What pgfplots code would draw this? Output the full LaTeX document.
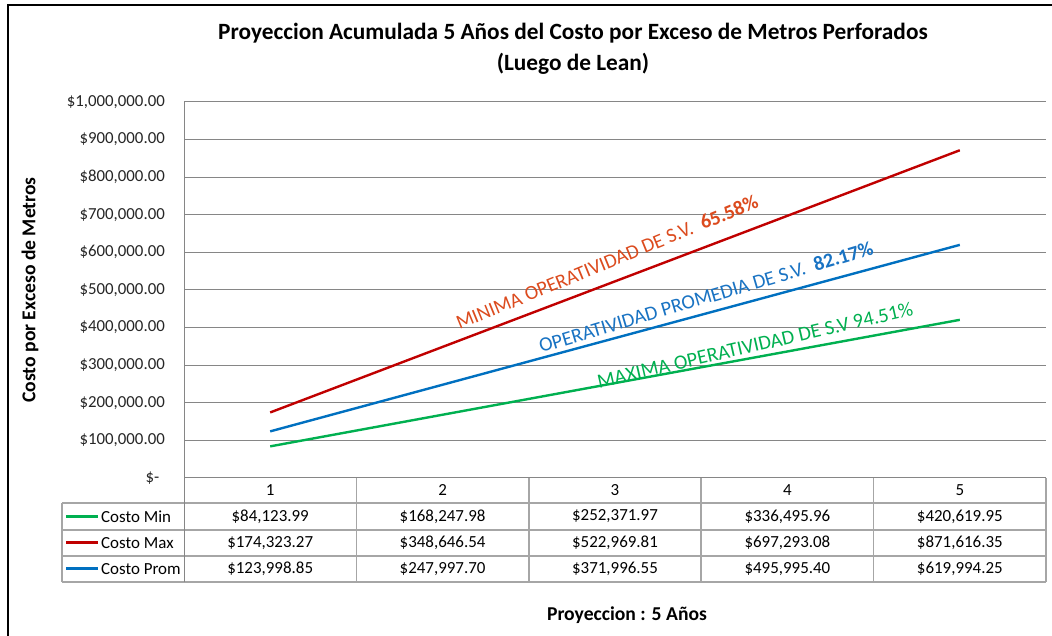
\documentclass[border=0pt]{standalone}
\usepackage{pgfplots}
\pgfplotsset{compat=1.18}
\usepackage{fontspec}
\setmainfont{Carlito}
\definecolor{cgreen}{RGB}{0,176,80}
\definecolor{cred}{RGB}{192,0,0}
\definecolor{cblue}{RGB}{0,112,192}
\definecolor{tred}{RGB}{220,75,30}
\definecolor{tblue}{RGB}{25,115,195}
\definecolor{tgreen}{RGB}{0,176,80}
\definecolor{gridc}{RGB}{134,134,134}
\definecolor{tabc}{RGB}{166,166,166}
\begin{document}
\begin{tikzpicture}
\begin{scope}[x=1bp,y=1bp]
\useasboundingbox (0,0) rectangle (1052,636);
\fill[white] (0,0) rectangle (1052,636);
\draw[black, line width=2bp] (8,-2) -- (8,631) -- (1054,631);
\end{scope}
\begin{axis}[
  at={(184bp,158bp)}, anchor=south west,
  width=862bp, height=376bp, scale only axis,
  xmin=0.5, xmax=5.5, ymin=0, ymax=1000000,
  xtick={1,2,3,4,5}, xticklabels={},
  ytick={0,100000,...,1000000},
  scaled y ticks=false,
  yticklabels={{\$-\,\,},{\$100,000.00},{\$200,000.00},{\$300,000.00},{\$400,000.00},{\$500,000.00},{\$600,000.00},{\$700,000.00},{\$800,000.00},{\$900,000.00},{\$1,000,000.00}},
  yticklabel style={font=\fontsize{16.9}{19}\selectfont, text=black!85, anchor=east, inner sep=0pt, xshift=-19bp},
  major tick length=0pt,
  ymajorgrids, grid style={gridc, line width=1bp},
  axis x line*=bottom, axis y line*=left,
  axis line style={gridc, line width=1bp, -},
  clip=false,
]
\addplot[cgreen, line width=2.4bp] coordinates {(1,84123.99) (2,168247.98) (3,252371.97) (4,336495.96) (5,420619.95)};
\addplot[cred, line width=2.4bp] coordinates {(1,174323.27) (2,348646.54) (3,522969.81) (4,697293.08) (5,871616.35)};
\addplot[cblue, line width=2.4bp] coordinates {(1,123998.85) (2,247997.70) (3,371996.55) (4,495995.40) (5,619994.25)};
\end{axis}
\begin{scope}[x=1bp,y=1bp]
% title
\node[font=\bfseries\fontsize{23.4}{26}\selectfont] at (573,603) {Proyeccion Acumulada 5 Años del Costo por Exceso de Metros Perforados};
\node[font=\bfseries\fontsize{23.4}{26}\selectfont] at (573,572) {(Luego de Lean)};
% axis labels
\node[font=\bfseries\fontsize{19.7}{22}\selectfont, rotate=90] at (30,346) {Costo por Exceso de Metros};
\node[font=\bfseries\fontsize{19.7}{22}\selectfont] at (627,21) {Proyeccion : 5 Años};
% annotations
\node[rotate=22.3, text=tred, font=\fontsize{20.2}{23}\selectfont] at (607,374) {MINIMA OPERATIVIDAD DE S.V.\ \ \textbf{65.58\%}};
\node[rotate=16.5, text=tblue, font=\fontsize{20.3}{23}\selectfont] at (706,339) {OPERATIVIDAD PROMEDIA DE S.V.\ \ \textbf{82.17\%}};
\node[rotate=13, text=tgreen, font=\fontsize{20.4}{23}\selectfont] at (755,291) {MAXIMA OPERATIVIDAD DE S.V 94.51\%};
% data table
\draw[tabc, line width=1.6bp] (62,133) -- (1046,133) (62,106) -- (1046,106) (62,80) -- (1046,80) (62,54) -- (1046,54);
\draw[tabc, line width=1.6bp] (62,133) -- (62,54);
\foreach \xv in {356.4,528.8,701.2,873.6,1046} {\draw[tabc, line width=1.6bp] (\xv,158) -- (\xv,54);}
\draw[gridc, line width=1bp] (184,158) -- (184,54);
\foreach \i in {1,...,5} {\node[font=\fontsize{17}{19}\selectfont] at ({184+(\i-0.5)*172.4},145.5) {\i};}
\foreach \i/\v in {1/{\$84,123.99},2/{\$168,247.98},3/{\$252,371.97},4/{\$336,495.96},5/{\$420,619.95}} {\node[font=\fontsize{17}{19}\selectfont] at ({184+(\i-0.5)*172.4},119.5) {\v};}
\foreach \i/\v in {1/{\$174,323.27},2/{\$348,646.54},3/{\$522,969.81},4/{\$697,293.08},5/{\$871,616.35}} {\node[font=\fontsize{17}{19}\selectfont] at ({184+(\i-0.5)*172.4},93) {\v};}
\foreach \i/\v in {1/{\$123,998.85},2/{\$247,997.70},3/{\$371,996.55},4/{\$495,995.40},5/{\$619,994.25}} {\node[font=\fontsize{17}{19}\selectfont] at ({184+(\i-0.5)*172.4},67) {\v};}
% legend keys
\draw[cgreen, line width=3bp] (66,119.5) -- (98,119.5);
\draw[cred, line width=3bp] (66,93) -- (98,93);
\draw[cblue, line width=3bp] (66,67) -- (98,67);
\node[anchor=west, inner sep=0pt, font=\fontsize{17}{19}\selectfont] at (101,119.5) {Costo Min};
\node[anchor=west, inner sep=0pt, font=\fontsize{17}{19}\selectfont] at (101,93) {Costo Max};
\node[anchor=west, inner sep=0pt, font=\fontsize{17}{19}\selectfont] at (101,67) {Costo Prom};
\end{scope}
\end{tikzpicture}
\end{document}
